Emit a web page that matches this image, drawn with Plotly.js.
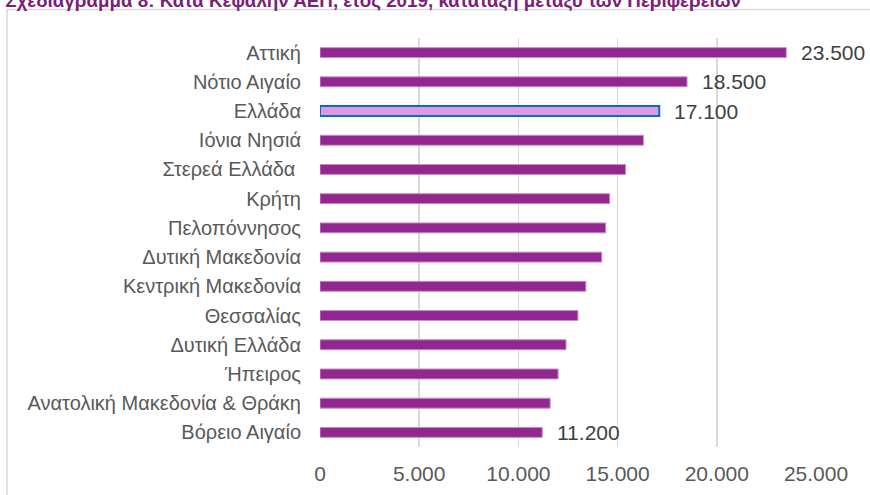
<!DOCTYPE html>
<html>
<head>
<meta charset="utf-8">
<script src="https://cdn.plot.ly/plotly-3.0.1.min.js"></script>
<style>
html,body{margin:0;padding:0;background:#fff;}
#chart{width:870px;height:495px;}
</style>
</head>
<body>
<div id="chart"></div>
<script>
const titleText = "Σχεδιάγραμμα 8: Κατά Κεφαλήν ΑΕΠ, έτος 2019, κατάταξη μεταξύ των Περιφερειών";
const regions = ["Αττική", "Νότιο Αιγαίο", "Ελλάδα", "Ιόνια Νησιά", "Στερεά Ελλάδα\u00a0", "Κρήτη",
  "Πελοπόννησος", "Δυτική Μακεδονία", "Κεντρική Μακεδονία", "Θεσσαλίας", "Δυτική Ελλάδα",
  "Ήπειρος", "Ανατολική Μακεδονία & Θράκη", "Βόρειο Αιγαίο"];
const gdpPerCapita = [23500, 18500, 17100, 16300, 15400, 14600, 14400, 14200, 13400, 13000, 12400, 12000, 11600, 11200];
const labelledRegions = ["Αττική", "Νότιο Αιγαίο", "Ελλάδα", "Βόρειο Αιγαίο"];
const labelledValues = [23500, 18500, 17100, 11200];
const tickValues = [0, 5000, 10000, 15000, 20000, 25000];
const tickLabels = ["0", "5.000", "10.000", "15.000", "20.000", "25.000"];

const fillColors = regions.map(r => r === "Ελλάδα" ? "#E497DE" : "#92278F");
const lineColors = regions.map(r => r === "Ελλάδα" ? "#0070C0" : "#C98BC6");
const lineWidths = regions.map(r => r === "Ελλάδα" ? 2 : 1);

const fmt = v => v.toLocaleString("de-DE");

const trace = {
  type: "bar",
  orientation: "h",
  x: gdpPerCapita,
  y: regions,
  width: 0.34,
  marker: {color: fillColors, line: {color: lineColors, width: lineWidths}},
  hoverinfo: "x+y"
};

const annotations = labelledRegions.map((r, i) => ({
  x: labelledValues[i], y: r, xref: "x", yref: "y",
  text: fmt(labelledValues[i]), showarrow: false,
  xanchor: "left", yanchor: "middle", xshift: 13,
  font: {family: "Liberation Sans, Arial, sans-serif", size: 21, color: "#404040"}
}));

// plot area in pixels: x 320..816, y 38..447
const px = v => (v - 320) / 496;
const py = v => (447 - v) / 409;

const layout = {
  width: 870, height: 495,
  margin: {l: 320, r: 54, t: 38, b: 48, pad: 0},
  paper_bgcolor: "#ffffff", plot_bgcolor: "#ffffff",
  showlegend: false,
  title: {
    text: "<b>" + titleText + "</b>",
    x: 0.006, xanchor: "left", xref: "container",
    y: 1.0, yanchor: "middle", yref: "container",
    font: {family: "Liberation Sans, Arial, sans-serif", size: 18.8, color: "#7A1F78"}
  },
  xaxis: {
    range: [0, 25000],
    tickvals: tickValues, ticktext: tickLabels,
    showgrid: true, gridcolor: "#D9D9D9", gridwidth: 1.5,
    zeroline: false, showline: false, ticks: "",
    ticklabelstandoff: 12,
    tickfont: {family: "Liberation Sans, Arial, sans-serif", size: 21, color: "#595959"},
    fixedrange: true
  },
  yaxis: {
    type: "category",
    categoryorder: "array", categoryarray: regions,
    autorange: "reversed",
    showgrid: false, zeroline: false, showline: false, ticks: "",
    ticklabelstandoff: 18,
    tickfont: {family: "Liberation Sans, Arial, sans-serif", size: 20, color: "#595959"},
    fixedrange: true
  },
  annotations: annotations,
  shapes: [{
    type: "rect", xref: "paper", yref: "paper",
    x0: px(7), x1: px(880), y0: py(505), y1: py(9.5),
    line: {color: "#D9D9D9", width: 1.5}, fillcolor: "rgba(0,0,0,0)", layer: "below"
  }]
};

Plotly.newPlot("chart", [trace], layout, {displayModeBar: false, staticPlot: true});
</script>
</body>
</html>
